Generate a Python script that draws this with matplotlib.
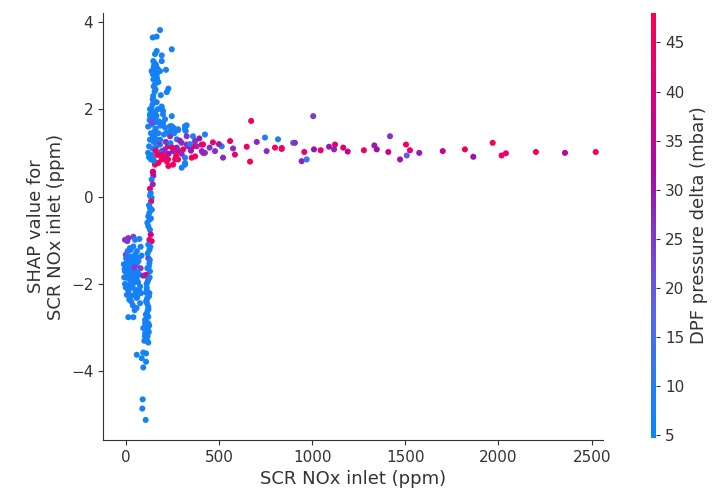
import numpy as np
import matplotlib
matplotlib.use("Agg")
import matplotlib.pyplot as plt
from matplotlib.colors import LinearSegmentedColormap

# ---- data ----
# low-NOx cluster
low_nox = [-4, 14, 9, 41, 50, 73, 80, 41, 27, 0, 2, 23, 50, 14, 41, 68, 5, 32, 59, 80,
           -4, 23, 50, 73, 5, 32, 59, -4, 19, 41, 77, 14, 50, 32, 62, 19, 38, 82, 14, 41,
           59, 77, -10, 10, 60, -8, 30,
           3, 18, 36, 55, 70, 85, -6, 12, 28, 46, 64, 8, 25, 44, 66, 0, 20, 35, 53, 72,
           6, 30, 48, 22, 58]
low_shap = [-0.99, -0.95, -1.02, -0.92, -0.99, -0.97, -1.15, -1.14, -1.22, -1.33, -1.41, -1.37,
            -1.33, -1.48, -1.44, -1.48, -1.60, -1.60, -1.58, -1.64, -1.71, -1.75, -1.71, -1.79,
            -1.86, -1.86, -1.90, -2.00, -2.02, -1.98, -2.06, -2.17, -2.13, -2.27, -2.30, -2.36,
            -2.49, -2.21, -2.76, -2.76, -2.32, -2.44, -1.55, -1.25, -1.25, -1.85, -1.70,
            -1.52, -1.56, -1.50, -1.53, -1.40, -1.35, -1.66, -1.68, -1.64, -1.62, -1.74,
            -1.80, -1.93, -1.82, -1.96, -2.08, -2.10, -2.05, -2.20, -2.15, -2.25, -2.40,
            -2.60, -1.18, -2.55]
low_dpf = [26, 27, 25, 24, 9, 8, 8, 9, 8, 22, 8, 9, 8, 8, 7, 9, 8, 8, 7, 24,
           8, 9, 8, 7, 8, 9, 8, 7, 8, 9, 8, 7, 8, 8, 9, 7, 8, 8, 8, 7,
           8, 9, 8, 9, 7, 8, 7,
           8, 9, 7, 8, 9, 8, 7, 8, 9, 24, 8, 7, 9, 8, 7, 8, 9, 8, 7, 8, 9, 8, 7, 8, 9]

# steep vertical column near 100-160 ppm
col_nox = [157, 145, 148, 139, 145, 130, 134, 130, 139, 136, 130, 127, 121, 127, 116, 121,
           130, 134, 127, 139, 121, 127, 121, 127, 116, 130, 109, 94, 116, 121, 113, 127,
           116, 109, 121, 113, 121, 104, 113, 113, 104, 121, 94, 104, 113, 121, 59, 94,
           109, 86, 109, 94, 91, 89, 107, 125, 118, 124, 110, 118, 108, 124, 117, 100,
           112, 128, 132, 135, 140,
           115, 122, 108, 126, 119, 112, 125, 103, 117, 129]
col_shap = [0.73, 0.56, 0.48, 0.39, 0.28, 0.18, 0.08, 0.02, -0.03, -0.11, -0.26, -0.37,
            -0.45, -0.53, -0.60, -0.68, -0.76, -0.87, -0.99, -1.02, -1.10, -1.22, -1.41,
            -1.52, -1.64, -1.71, -1.79, -1.81, -1.83, -1.90, -2.09, -2.21, -2.32, -2.40,
            -2.52, -2.67, -2.75, -2.90, -3.01, -2.36, -2.82, -2.90, -3.01, -3.13, -3.28,
            -3.34, -3.62, -3.57, -3.59, -3.70, -3.78, -3.91, -4.64, -4.85, -5.11, -0.20,
            -1.30, -1.60, -2.20, -2.60, -2.70, -3.10, -3.20, -3.30, -2.00, -1.85, -1.15,
            -0.50, -0.30,
            -2.45, -2.58, -2.85, -2.95, -3.05, -2.15, -2.28, -3.20, -1.95, -1.45]
col_dpf = [44, 38, 30, 9, 28, 45, 8, 7, 8, 44, 8, 7, 8, 9, 7, 8, 8, 38, 45, 44, 8, 7,
           27, 8, 7, 8, 45, 28, 44, 8, 7, 8, 7, 8, 7, 8, 7, 8, 7, 8, 7, 8, 7, 8, 7, 8,
           7, 8, 7, 8, 7, 8, 7, 8, 7, 8, 7, 8, 7, 8, 7, 8, 7, 8, 9, 8, 9, 8, 9,
           8, 7, 8, 9, 7, 8, 9, 8, 7, 8]

# high blue spike
spike_nox = [184, 145, 166, 247, 166, 157, 193, 148, 193, 157, 139, 163, 184, 216, 145, 166,
             148, 157, 229, 220, 188, 145, 166, 193, 130, 157, 200, 146, 139, 193, 200, 130,
             157, 211, 247, 265, 281, 322, 322, 211, 238, 157, 150, 160, 170, 155, 165, 175,
             150, 160,
             152, 158, 162, 148, 168, 155, 143, 172, 150, 160, 140, 178, 147, 165, 185]
spike_shap = [3.81, 3.64, 3.66, 3.37, 3.33, 3.26, 3.23, 3.10, 3.10, 3.03, 2.87, 2.91, 2.87,
              2.90, 2.80, 2.80, 2.68, 2.57, 2.47, 2.39, 2.32, 2.22, 2.16, 2.06, 2.00, 1.92,
              1.96, 2.22, 2.00, 2.00, 1.88, 1.88, 1.77, 1.77, 1.61, 1.54, 1.52, 1.61, 1.50,
              1.58, 1.50, 1.50, 2.95, 2.98, 2.93, 3.05, 2.75, 2.62, 2.52, 2.45,
              3.00, 2.92, 3.02, 2.85, 2.70, 2.40, 2.10, 2.00, 1.80, 1.70, 1.65, 1.72, 2.30,
              1.85, 1.62]
spike_dpf = [8, 7, 9, 8, 7, 8, 9, 7, 8, 9, 8, 7, 9, 8, 7, 8, 9, 8, 7, 8, 9, 7, 8, 9, 8,
             7, 8, 9, 7, 8, 9, 8, 7, 8, 9, 8, 7, 8, 9, 8, 7, 8, 9, 7, 8, 9, 8, 7, 8, 9,
             8, 7, 9, 8, 7, 8, 9, 8, 7, 8, 9, 8, 7, 8, 9]

# knee region (mixed colours)
knee_nox = [673, 667, 415, 560, 649, 703, 747, 817, 756, 801, 837, 898, 425, 468, 515, 576,
            586, 522, 479, 318, 361, 327, 372, 334, 381, 408, 425, 372, 318, 281, 300, 254,
            265, 318, 227, 200, 184, 157, 238, 274, 220, 254, 281, 318, 327, 238, 200, 247,
            193, 211, 220, 175, 229, 254, 147, 281, 354, 300, 139, 173, 157, 146, 200, 227,
            193, 274, 308, 327, 361, 408, 415, 318, 120, 125, 130, 135, 120, 128, 140, 145,
            150, 155, 160, 135, 125, 165, 170, 140, 130, 175, 180, 150,
            185, 205, 215, 240, 260, 290, 345, 395, 450, 500, 160, 190, 230, 270, 145, 170,
            210, 250, 300, 350]
knee_shap = [1.73, 0.80, 1.19, 1.27, 1.14, 1.25, 1.35, 1.31, 1.04, 1.12, 1.09, 1.23, 1.42,
             1.24, 1.15, 1.10, 0.96, 0.89, 1.04, 1.61, 1.38, 1.38, 1.27, 1.15, 1.15, 1.04,
             1.00, 0.92, 0.89, 1.04, 1.23, 1.04, 0.85, 0.77, 1.15, 1.00, 1.19, 1.31, 1.38,
             1.31, 1.46, 1.58, 1.54, 1.54, 1.63, 1.61, 1.69, 1.84, 0.85, 0.89, 0.81, 0.77,
             0.70, 0.73, 0.85, 0.85, 0.89, 0.66, 0.89, 1.24, 0.78, 0.57, 0.89, 0.85, 1.04,
             1.12, 1.08, 1.19, 1.15, 1.19, 1.00, 0.73, 1.00, 1.15, 1.30, 1.45, 1.60, 1.75,
             0.95, 1.10, 1.25, 1.40, 1.55, 0.85, 0.90, 1.15, 1.30, 1.70, 1.85, 1.45, 1.00,
             0.82,
             1.30, 1.42, 1.25, 1.22, 1.45, 1.28, 1.20, 1.33, 1.12, 1.20, 1.05, 0.95, 0.98,
             0.93, 1.35, 0.95, 1.08, 1.12, 0.98, 1.05]
knee_dpf = [45, 46, 44, 45, 44, 28, 9, 8, 27, 45, 44, 16, 8, 44, 9, 27, 45, 28, 27, 8, 9,
            26, 27, 28, 27, 28, 26, 45, 9, 44, 27, 28, 45, 8, 44, 45, 8, 44, 27, 9, 8, 8,
            9, 8, 8, 9, 8, 9, 45, 46, 44, 45, 46, 44, 45, 44, 45, 8, 9, 44, 45, 40, 45, 44,
            27, 28, 44, 27, 44, 45, 28, 8, 8, 9, 8, 7, 8, 9, 8, 7, 8, 9, 8, 7, 8, 9, 8, 22,
            8, 9, 8, 7,
            8, 9, 27, 8, 9, 28, 9, 30, 27, 29, 45, 44, 30, 46, 8, 45, 27, 44, 28, 30]

# long tail at high NOx
tail_nox = [837, 908, 944, 971, 958, 1006, 1010, 1046, 1091, 1118, 1123, 1167, 1191, 1278,
            1334, 1347, 1409, 1418, 1472, 1504, 1508, 1525, 1575, 1701, 1820, 1865, 1969,
            2017, 2040, 2201, 2357, 2522]
tail_shap = [1.11, 1.23, 0.81, 0.85, 1.02, 1.84, 1.08, 1.06, 1.14, 1.08, 1.19, 1.12, 1.03,
             1.06, 1.17, 1.08, 1.02, 1.38, 0.85, 1.19, 0.94, 1.06, 1.00, 1.04, 1.08, 0.91,
             1.23, 0.94, 0.99, 1.02, 1.00, 1.02]
tail_dpf = [45, 27, 29, 14, 44, 25, 31, 44, 30, 29, 40, 41, 37, 45, 30, 32, 38, 26, 31,
            45, 20, 43, 30, 36, 45, 31, 46, 45, 44, 46, 35, 46]

cb_ticks = [5, 10, 15, 20, 25, 30, 35, 40, 45]
x_ticks = [0, 500, 1000, 1500, 2000, 2500]
y_ticks = [-4, -2, 0, 2, 4]

x = np.concatenate([low_nox, col_nox, spike_nox, knee_nox, tail_nox]).astype(float)
y = np.concatenate([low_shap, col_shap, spike_shap, knee_shap, tail_shap]).astype(float)
c = np.concatenate([low_dpf, col_dpf, spike_dpf, knee_dpf, tail_dpf]).astype(float)

# SHAP-like red_blue colormap
cmap = LinearSegmentedColormap.from_list(
    "red_blue",
    [(0.00, (0/255, 139/255, 251/255)),
     (0.30, (90/255, 100/255, 235/255)),
     (0.50, (135/255, 50/255, 200/255)),
     (0.62, (165/255, 10/255, 170/255)),
     (0.80, (215/255, 0/255, 130/255)),
     (1.00, (255/255, 0/255, 81/255))])

fig = plt.figure(figsize=(7.13, 4.95), dpi=100)
ax = fig.add_axes([103/713, 1 - 440/495, 500/713, 427/495])
sc = ax.scatter(x, y, c=c, cmap=cmap, vmin=4.7, vmax=48, s=19, linewidths=0, alpha=1)

ax.set_xlim(-122, 2561)
ax.set_ylim(-5.57, 4.2)
ax.set_xticks(x_ticks)
ax.set_yticks(y_ticks)
for s in ["top", "right"]:
    ax.spines[s].set_visible(False)
for s in ["left", "bottom"]:
    ax.spines[s].set_color("#333333")
ax.tick_params(labelsize=11, colors="#333333", labelcolor="#333333")
ax.set_xlabel("SCR NOx inlet (ppm)", fontsize=13, color="#333333")
ax.set_ylabel("SHAP value for\nSCR NOx inlet (ppm)", fontsize=13, color="#333333")

cax = fig.add_axes([651/713, 1 - 438/495, 5/713, 425/495])
cb = fig.colorbar(sc, cax=cax, ticks=cb_ticks)
cb.outline.set_visible(False)
cb.ax.tick_params(labelsize=11, colors="#333333", labelcolor="#333333", length=3)
cb.set_label("DPF pressure delta (mbar)", fontsize=13, color="#333333")

fig.savefig("out.png", dpi=100)
